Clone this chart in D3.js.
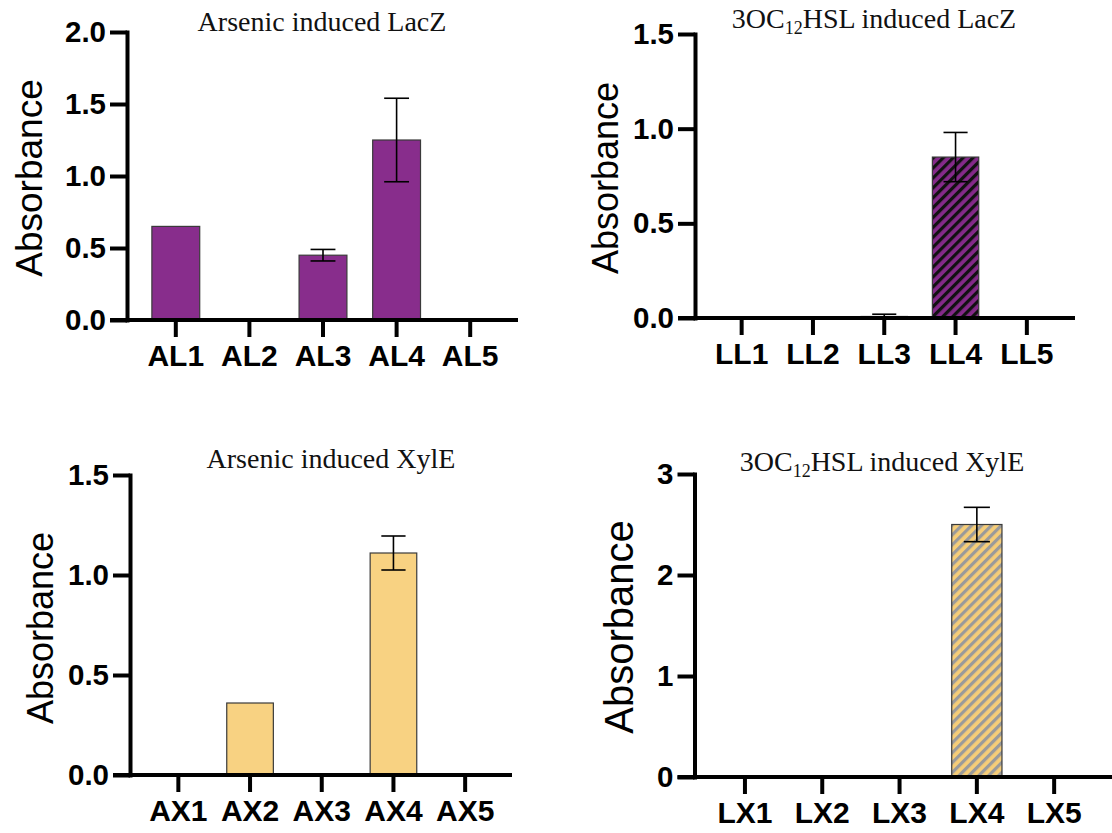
<!DOCTYPE html>
<html><head><meta charset="utf-8">
<script src="https://cdn.jsdelivr.net/npm/d3@7"></script>
<style>body{margin:0;background:#fff} svg{display:block}</style>
</head><body>
<svg id="chart" width="1112" height="833"></svg>
<script>
// ---- data ----
const alCategories = ["AL1", "AL2", "AL3", "AL4", "AL5"];
const alValues = [0.65, 0, 0.45, 1.25, 0];
const alErrors = [0, 0, 0.04, 0.29, 0];
const alTicks = [0, 0.5, 1.0, 1.5, 2.0];

const llCategories = ["LL1", "LL2", "LL3", "LL4", "LL5"];
const llValues = [0, 0, 0.008, 0.85, 0];
const llErrors = [0, 0, 0.012, 0.13, 0];
const llTicks = [0, 0.5, 1.0, 1.5];

const axCategories = ["AX1", "AX2", "AX3", "AX4", "AX5"];
const axValues = [0, 0.36, 0, 1.11, 0];
const axErrors = [0, 0, 0, 0.085, 0];
const axTicks = [0, 0.5, 1.0, 1.5];

const lxCategories = ["LX1", "LX2", "LX3", "LX4", "LX5"];
const lxValues = [0, 0, 0, 2.5, 0];
const lxErrors = [0, 0, 0, 0.17, 0];
const lxTicks = [0, 1, 2, 3];

const yLabel = "Absorbance";

// ---- drawing ----
const svg = d3.select("#chart");
const defs = svg.append("defs");

function hatch(id, bg, fg) {
  const p = defs.append("pattern").attr("id", id)
    .attr("patternUnits", "userSpaceOnUse")
    .attr("width", 7).attr("height", 7)
    .attr("patternTransform", "rotate(45)");
  p.append("rect").attr("width", 7).attr("height", 7).attr("fill", bg);
  p.append("rect").attr("width", 3.2).attr("height", 7).attr("fill", fg);
}
hatch("hatchPurple", "#852a8a", "#111");
hatch("hatchGold", "#f6cd78", "#9a9a9a");

const panels = [
  {cats: alCategories, vals: alValues, errs: alErrors, ticks: alTicks, fmt: d3.format(".1f"),
   title: ["Arsenic induced LacZ"], fill: "#882d8c",
   axisX: 127, y0: 320, yTop: 32, xStart: 139, xEnd: 507, lineEnd: 518,
   titleX: 322, titleY: 31, labelX: 42, labelY: 178, labelSize: 37},
  {cats: llCategories, vals: llValues, errs: llErrors, ticks: llTicks, fmt: d3.format(".1f"),
   title: ["3OC", "12", "HSL induced LacZ"], fill: "url(#hatchPurple)",
   axisX: 695, y0: 318, yTop: 34, xStart: 706, xEnd: 1062.5, lineEnd: 1075,
   titleX: 874, titleY: 28, labelX: 618, labelY: 178, labelSize: 36},
  {cats: axCategories, vals: axValues, errs: axErrors, ticks: axTicks, fmt: d3.format(".1f"),
   title: ["Arsenic induced XylE"], fill: "#f8d282",
   axisX: 130, y0: 775, yTop: 475, xStart: 142.5, xEnd: 501, lineEnd: 512,
   titleX: 331, titleY: 468, labelX: 53, labelY: 628, labelSize: 36},
  {cats: lxCategories, vals: lxValues, errs: lxErrors, ticks: lxTicks, fmt: d3.format("d"),
   title: ["3OC", "12", "HSL induced XylE"], fill: "url(#hatchGold)",
   axisX: 694.5, y0: 777, yTop: 474, xStart: 706.3, xEnd: 1092.8, lineEnd: 1112,
   titleX: 882, titleY: 471, labelX: 633, labelY: 627, labelSize: 40}
];

const pad = 0.35;
const tickLen = 17;
const axisW = 4;

panels.forEach(P => {
  const g = svg.append("g");
  const x = d3.scaleBand().domain(P.cats).range([P.xStart, P.xEnd])
    .paddingInner(pad).paddingOuter(pad / 2);
  const y = d3.scaleLinear().domain([0, d3.max(P.ticks)]).range([P.y0, P.yTop]);
  const data = P.cats.map((c, i) => ({c, v: P.vals[i], e: P.errs[i]}));

  // bars
  g.selectAll("rect.bar").data(data.filter(d => d.v > 0)).join("rect")
    .attr("class", "bar")
    .attr("x", d => x(d.c)).attr("width", x.bandwidth())
    .attr("y", d => y(d.v)).attr("height", d => y(0) - y(d.v))
    .attr("fill", P.fill).attr("stroke", "#3a3a3a").attr("stroke-width", 1.2);

  // error bars
  const eb = data.filter(d => d.e > 0);
  const cx = d => x(d.c) + x.bandwidth() / 2;
  const cap = x.bandwidth() * 0.26;
  g.selectAll("line.ev").data(eb).join("line").attr("class", "ev")
    .attr("x1", cx).attr("x2", cx)
    .attr("y1", d => y(d.v + d.e)).attr("y2", d => y(Math.max(0, d.v - d.e)))
    .attr("stroke", "#000").attr("stroke-width", 1.6);
  g.selectAll("line.et").data(eb).join("line").attr("class", "et")
    .attr("x1", d => cx(d) - cap).attr("x2", d => cx(d) + cap)
    .attr("y1", d => y(d.v + d.e)).attr("y2", d => y(d.v + d.e))
    .attr("stroke", "#000").attr("stroke-width", 1.6);
  g.selectAll("line.eb").data(eb.filter(d => d.v - d.e > 0)).join("line").attr("class", "eb")
    .attr("x1", d => cx(d) - cap).attr("x2", d => cx(d) + cap)
    .attr("y1", d => y(d.v - d.e)).attr("y2", d => y(d.v - d.e))
    .attr("stroke", "#000").attr("stroke-width", 1.6);

  // y axis
  const ya = g.append("g").attr("transform", `translate(${P.axisX},0)`)
    .call(d3.axisLeft(y).tickValues(P.ticks).tickFormat(P.fmt)
      .tickSize(tickLen).tickSizeOuter(0).tickPadding(4));
  ya.select(".domain").attr("stroke", "#000").attr("stroke-width", axisW)
    .attr("stroke-linecap", "square");
  ya.selectAll(".tick line").attr("stroke", "#000").attr("stroke-width", axisW);
  ya.selectAll(".tick text").attr("font-family", "'Liberation Sans', Arial, sans-serif")
    .attr("font-weight", "bold").attr("font-size", 29.5).attr("fill", "#000");

  // x axis
  const xa = g.append("g").attr("transform", `translate(0,${P.y0})`)
    .call(d3.axisBottom(x).tickSize(tickLen).tickSizeOuter(0).tickPadding(8));
  xa.select(".domain").remove();
  xa.selectAll(".tick line").attr("stroke", "#000").attr("stroke-width", axisW);
  xa.selectAll(".tick text").attr("font-family", "'Liberation Sans', Arial, sans-serif")
    .attr("font-weight", "bold").attr("font-size", 30).attr("fill", "#000");
  xa.append("line").attr("x1", P.axisX - tickLen).attr("x2", P.lineEnd)
    .attr("y1", 0).attr("y2", 0).attr("stroke", "#000").attr("stroke-width", axisW);

  // y label
  g.append("text")
    .attr("transform", `translate(${P.labelX},${P.labelY}) rotate(-90)`)
    .attr("text-anchor", "middle")
    .attr("font-family", "'Liberation Sans', Arial, sans-serif")
    .attr("font-size", P.labelSize).attr("fill", "#000").text(yLabel);

  // title
  const t = g.append("text").attr("x", P.titleX).attr("y", P.titleY)
    .attr("text-anchor", "middle")
    .attr("font-family", "'Liberation Serif', 'Times New Roman', serif")
    .attr("font-size", 28).attr("fill", "#111");
  if (P.title.length === 1) {
    t.text(P.title[0]);
  } else {
    t.append("tspan").text(P.title[0]);
    t.append("tspan").attr("font-size", 18).attr("dy", 6).text(P.title[1]);
    t.append("tspan").attr("dy", -6).text(P.title[2]);
  }
});
</script>
</body></html>
